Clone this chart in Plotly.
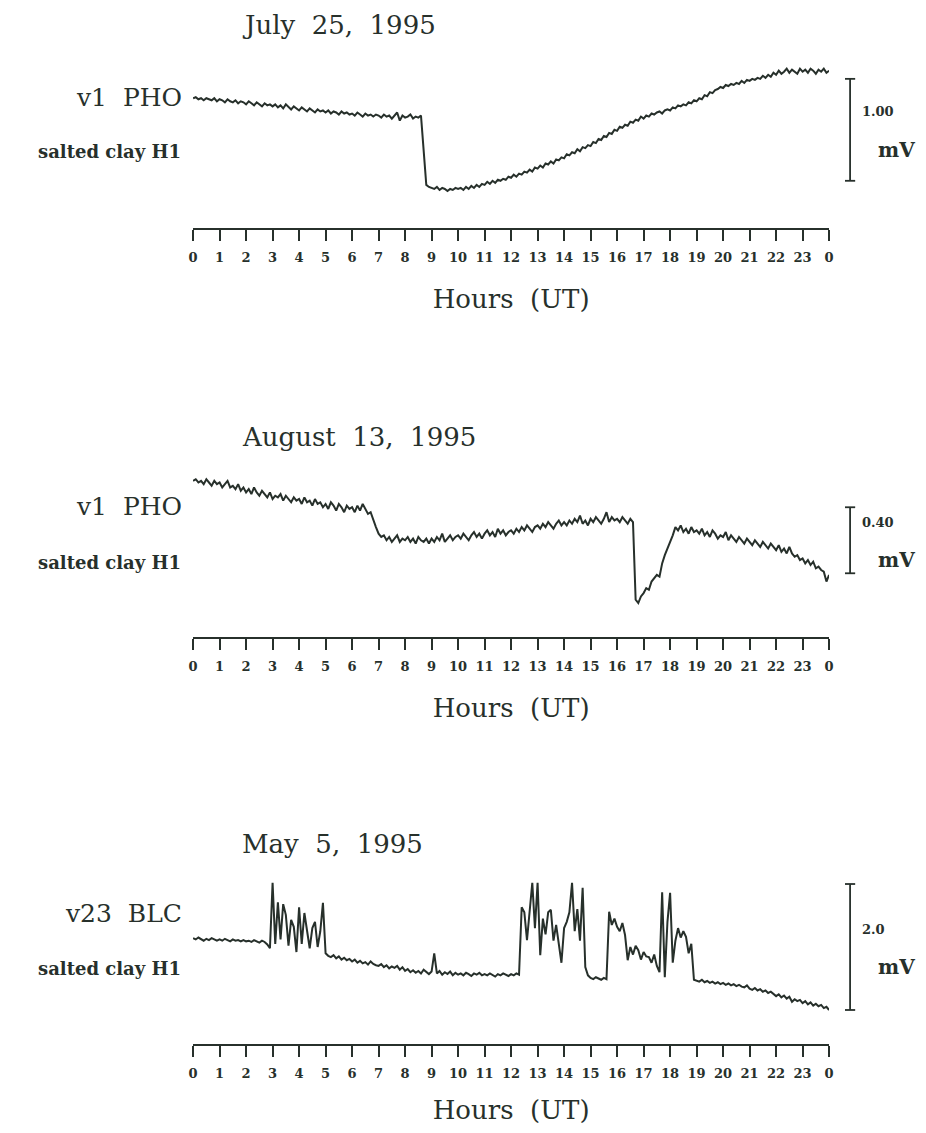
import plotly.graph_objects as go

# --- data (mV, sampled every 0.1 h from 00:00 to 24:00 UT) -------------------
step_h = 0.1

july25_mv = [
    0.90, 0.91, 0.89, 0.90, 0.88, 0.90, 0.89, 0.88, 0.90, 0.87,
    0.89, 0.88, 0.86, 0.89, 0.87, 0.86, 0.88, 0.85, 0.87, 0.86,
    0.84, 0.87, 0.85, 0.83, 0.86, 0.84, 0.82, 0.85, 0.83, 0.84,
    0.82, 0.84, 0.81, 0.83, 0.80, 0.84, 0.81, 0.79, 0.82, 0.80,
    0.78, 0.81, 0.79, 0.77, 0.80, 0.78, 0.76, 0.79, 0.77, 0.78,
    0.76, 0.78, 0.75, 0.77, 0.76, 0.74, 0.77, 0.75, 0.76, 0.74,
    0.75, 0.73, 0.76, 0.74, 0.72, 0.75, 0.73, 0.74, 0.72, 0.74,
    0.73, 0.71, 0.74, 0.72, 0.73, 0.70, 0.73, 0.76, 0.68, 0.73,
    0.71, 0.72, 0.74, 0.70, 0.72, 0.71, 0.73, 0.40, 0.05, 0.03,
    0.02, 0.01, 0.03, 0.00, 0.02, 0.01, -0.01, 0.01, 0.00, 0.02,
    0.01, 0.02, 0.00, 0.03, 0.01, 0.04, 0.02, 0.05, 0.03, 0.06,
    0.05, 0.08, 0.06, 0.09, 0.07, 0.10, 0.09, 0.11, 0.10, 0.13,
    0.12, 0.15, 0.13, 0.16, 0.15, 0.18, 0.17, 0.20, 0.18, 0.22,
    0.21, 0.24, 0.22, 0.26, 0.25, 0.28, 0.26, 0.30, 0.29, 0.32,
    0.31, 0.35, 0.34, 0.37, 0.36, 0.40, 0.38, 0.42, 0.41, 0.44,
    0.43, 0.47, 0.46, 0.50, 0.49, 0.53, 0.52, 0.56, 0.55, 0.59,
    0.58, 0.62, 0.61, 0.64, 0.63, 0.67, 0.66, 0.69, 0.68, 0.72,
    0.70, 0.73, 0.72, 0.75, 0.74, 0.76, 0.77, 0.75, 0.78, 0.79,
    0.78, 0.81, 0.80, 0.83, 0.82, 0.84, 0.83, 0.86, 0.85, 0.88,
    0.87, 0.90, 0.89, 0.93, 0.92, 0.96, 0.95, 0.98, 0.99, 1.01,
    1.00, 1.03, 1.02, 1.04, 1.03, 1.05, 1.04, 1.07, 1.05, 1.08,
    1.07, 1.09, 1.08, 1.10, 1.09, 1.12, 1.10, 1.13, 1.11, 1.15,
    1.13, 1.17, 1.14, 1.16, 1.19, 1.15, 1.18, 1.16, 1.14, 1.19,
    1.16, 1.18, 1.15, 1.19, 1.17, 1.14, 1.18, 1.16, 1.19, 1.15,
    1.17,
]

aug13_mv = [
    0.74, 0.75, 0.73, 0.74, 0.72, 0.75, 0.73, 0.71, 0.74, 0.72,
    0.73, 0.70, 0.72, 0.74, 0.70, 0.71, 0.69, 0.72, 0.68, 0.70,
    0.67, 0.69, 0.66, 0.70, 0.67, 0.65, 0.68, 0.66, 0.64, 0.67,
    0.63, 0.65, 0.64, 0.66, 0.62, 0.65, 0.63, 0.61, 0.64, 0.62,
    0.63, 0.60, 0.64, 0.61, 0.62, 0.59, 0.63, 0.60, 0.61, 0.58,
    0.60, 0.57, 0.61, 0.59, 0.56, 0.60, 0.58, 0.55, 0.59, 0.57,
    0.58, 0.55, 0.59, 0.56, 0.60, 0.57, 0.54, 0.55, 0.50, 0.46,
    0.42, 0.40, 0.41, 0.38, 0.40, 0.37, 0.39, 0.41, 0.37, 0.39,
    0.38, 0.40, 0.37, 0.39, 0.36, 0.40, 0.38, 0.37, 0.39, 0.36,
    0.39, 0.37, 0.40, 0.38, 0.42, 0.37, 0.39, 0.41, 0.38, 0.40,
    0.41, 0.39, 0.42, 0.40, 0.38, 0.41, 0.43, 0.40, 0.42, 0.39,
    0.42, 0.44, 0.41, 0.43, 0.40, 0.45, 0.42, 0.44, 0.41, 0.43,
    0.44, 0.42, 0.45, 0.43, 0.46, 0.44, 0.47, 0.45, 0.43, 0.46,
    0.47, 0.45, 0.48, 0.46, 0.49, 0.47, 0.45, 0.48, 0.50, 0.47,
    0.49, 0.47, 0.50, 0.48, 0.51, 0.49, 0.53, 0.48, 0.50, 0.47,
    0.51, 0.49, 0.52, 0.50, 0.48, 0.51, 0.55, 0.49, 0.52, 0.50,
    0.51, 0.49, 0.52, 0.50, 0.48, 0.51, 0.49, 0.02, 0.00, 0.04,
    0.06, 0.09, 0.08, 0.13, 0.15, 0.17, 0.16, 0.24, 0.29, 0.33,
    0.36, 0.41, 0.46, 0.44, 0.47, 0.43, 0.45, 0.42, 0.46, 0.43,
    0.44, 0.42, 0.45, 0.41, 0.43, 0.40, 0.44, 0.42, 0.39, 0.41,
    0.40, 0.43, 0.38, 0.41, 0.39, 0.37, 0.40, 0.38, 0.36, 0.39,
    0.37, 0.35, 0.38, 0.36, 0.34, 0.37, 0.35, 0.33, 0.36, 0.34,
    0.32, 0.35, 0.31, 0.33, 0.30, 0.34, 0.30, 0.28, 0.29, 0.26,
    0.27, 0.24, 0.26, 0.23, 0.25, 0.21, 0.22, 0.20, 0.19, 0.13,
    0.17,
]

may05_mv = [
    1.14, 1.12, 1.15, 1.13, 1.10, 1.13, 1.11, 1.14, 1.12, 1.10,
    1.12, 1.10, 1.13, 1.11, 1.09, 1.12, 1.10, 1.11, 1.09, 1.11,
    1.09, 1.10, 1.08, 1.11, 1.09, 1.07, 1.10, 1.08, 1.04, 0.98,
    2.02, 1.05, 1.71, 1.12, 1.68, 1.51, 1.02, 1.43, 1.32, 0.92,
    1.63, 1.05, 1.54, 1.27, 0.98, 1.30, 1.40, 1.00, 1.25, 1.70,
    0.90, 0.86, 0.84, 0.87, 0.82, 0.85, 0.80, 0.83, 0.79, 0.81,
    0.77, 0.80, 0.75, 0.78, 0.74, 0.76, 0.72, 0.77, 0.73, 0.71,
    0.70, 0.73, 0.68, 0.71, 0.66, 0.69, 0.67, 0.70, 0.64, 0.68,
    0.62, 0.65, 0.60, 0.63, 0.59, 0.62, 0.58, 0.64, 0.60, 0.57,
    0.61, 0.90, 0.58, 0.62, 0.56, 0.60, 0.57, 0.61, 0.55, 0.59,
    0.56, 0.58, 0.55, 0.59, 0.57, 0.54, 0.58, 0.56, 0.59, 0.55,
    0.57, 0.55, 0.58, 0.56, 0.53, 0.57, 0.55, 0.58, 0.56, 0.54,
    0.57, 0.55, 0.58, 0.56, 1.63, 1.55, 1.11, 1.60, 2.02, 1.30,
    2.02, 0.87, 1.45, 1.20, 1.55, 1.59, 1.10, 1.35, 1.05, 0.75,
    1.30, 1.40, 1.55, 2.02, 1.25, 1.60, 1.10, 1.94, 0.68, 0.55,
    0.51, 0.49, 0.52, 0.50, 0.48, 0.51, 0.49, 1.56, 1.35, 1.45,
    1.32, 1.25, 1.38, 1.19, 0.79, 1.00, 0.88, 1.02, 0.95, 0.80,
    0.92, 0.85, 0.84, 0.75, 0.88, 0.70, 0.60, 1.87, 0.52, 1.40,
    1.86, 0.75, 1.10, 1.30, 1.15, 1.25, 1.16, 0.90, 1.05, 0.48,
    0.47, 0.45, 0.48, 0.44, 0.46, 0.43, 0.45, 0.42, 0.44, 0.41,
    0.43, 0.40, 0.42, 0.39, 0.41, 0.38, 0.40, 0.37, 0.36, 0.39,
    0.34, 0.32, 0.35, 0.31, 0.33, 0.29, 0.31, 0.27, 0.29, 0.25,
    0.22, 0.25, 0.20, 0.23, 0.18, 0.21, 0.13, 0.17, 0.14, 0.16,
    0.11, 0.14, 0.09, 0.12, 0.07, 0.10, 0.06, 0.08, 0.03, 0.05,
    0.00,
]

dates = ["July 25, 1995", "August 13, 1995", "May 5, 1995"]
stations = ["v1 PHO", "v1 PHO", "v23 BLC"]
electrode = ["salted clay H1", "salted clay H1", "salted clay H1"]
scale_mv = [1.00, 0.40, 2.0]
scale_labels = ["1.00", "0.40", "2.0"]
scale_base_mv = [0.09, 0.18, 0.0]
hour_ticks = list(range(25))
hour_labels = [str(h) for h in range(24)] + ["0"]

series = [july25_mv, aug13_mv, may05_mv]

# --- layout geometry (positions measured on the 926x1133 page) --------------
OFF = 8                      # browser body margin
W, H = 926 - 2 * OFF, 1133 - 2 * OFF
# (axis line px, top px) and y ranges so that the scale matches the original
y_doms = [(228, 60), (637, 465), (1044, 875)]
y_ranges = [[-0.373, 1.275], [-0.206, 0.836], [-0.540, 2.143]]

SERIF = "DejaVu Serif"
INK = "#27302b"


def px_x(px):
    # small horizontal calibration seen in the rendered page
    return ((px - 4) / 0.989 - OFF) / W


def px_y(px):
    return 1 - (px - OFF) / H


x_dom = [px_x(192), px_x(828)]

fig = go.Figure()
annotations = []
shapes = []

for i, vals in enumerate(series):
    n = i + 1
    xa = "x" if n == 1 else f"x{n}"
    ya = "y" if n == 1 else f"y{n}"
    hours = [k * step_h for k in range(len(vals))]
    fig.add_trace(go.Scatter(
        x=hours, y=vals, mode="lines", xaxis=xa, yaxis=ya,
        line=dict(color=INK, width=2), showlegend=False,
    ))
    bot, top = y_doms[i]
    fig.layout[f"xaxis{'' if n == 1 else n}"] = dict(
        domain=x_dom, anchor=ya, range=[0, 24],
        showline=True, linecolor=INK, linewidth=2,
        ticks="outside", ticklen=11, tickwidth=1.5, tickcolor=INK,
        tickvals=hour_ticks, ticktext=hour_labels,
        tickfont=dict(family=SERIF, size=13, color=INK, weight="bold"),
        ticklabelstandoff=5,
        showgrid=False, zeroline=False,
        title=dict(text="Hours  (UT)", standoff=26,
                   font=dict(family=SERIF, size=26, color=INK)),
    )
    fig.layout[f"yaxis{'' if n == 1 else n}"] = dict(
        domain=[px_y(bot), px_y(top)], anchor=xa, range=y_ranges[i],
        visible=False,
    )

    # vertical scale bar, in data units
    y0 = scale_base_mv[i]
    y1 = y0 + scale_mv[i]
    xd = f"{xa} domain"
    shapes.append(dict(type="line", xref=xd, yref=ya, x0=1.033, x1=1.033,
                       y0=y0, y1=y1, line=dict(color=INK, width=1.8)))
    for yy in (y0, y1):
        shapes.append(dict(type="line", xref=xd, yref=ya, x0=1.025, x1=1.041,
                           y0=yy, y1=yy, line=dict(color=INK, width=1.8)))
    mid = (y0 + y1) / 2
    annotations.append(dict(xref=xd, yref=ya, x=1.049, y=mid, yshift=18,
                            text=f"<b>{scale_labels[i]}</b>", showarrow=False,
                            xanchor="left",
                            font=dict(family=SERIF, size=13, color=INK)))
    annotations.append(dict(xref=xd, yref=ya, x=1.073, y=mid, yshift=-20,
                            text="<b>mV</b>", showarrow=False, xanchor="left",
                            font=dict(family=SERIF, size=20, color=INK)))

title_px = [25, 437, 844]
station_px = [98, 507, 913]
electrode_px = [152, 562, 968]
for i in range(3):
    annotations.append(dict(xref="paper", yref="paper", x=px_x(239), y=px_y(title_px[i]),
                            text=dates[i].replace(" ", "\u00a0\u00a0"),
                            showarrow=False, xanchor="left", yanchor="middle",
                            font=dict(family=SERIF, size=26, color=INK)))
    annotations.append(dict(xref="paper", yref="paper", x=px_x(183), y=px_y(station_px[i]),
                            text=stations[i].replace(" ", "\u00a0\u00a0"),
                            showarrow=False, xanchor="right", yanchor="middle",
                            font=dict(family=SERIF, size=25, color=INK)))
    annotations.append(dict(xref="paper", yref="paper", x=px_x(182), y=px_y(electrode_px[i]),
                            text=f"<b>{electrode[i]}</b>", showarrow=False,
                            xanchor="right", yanchor="middle",
                            font=dict(family=SERIF, size=18, color=INK)))

fig.update_layout(
    width=W, height=H,
    margin=dict(l=0, r=0, t=0, b=0),
    paper_bgcolor="white", plot_bgcolor="white",
    annotations=annotations, shapes=shapes,
)

fig.write_html("out.html")
